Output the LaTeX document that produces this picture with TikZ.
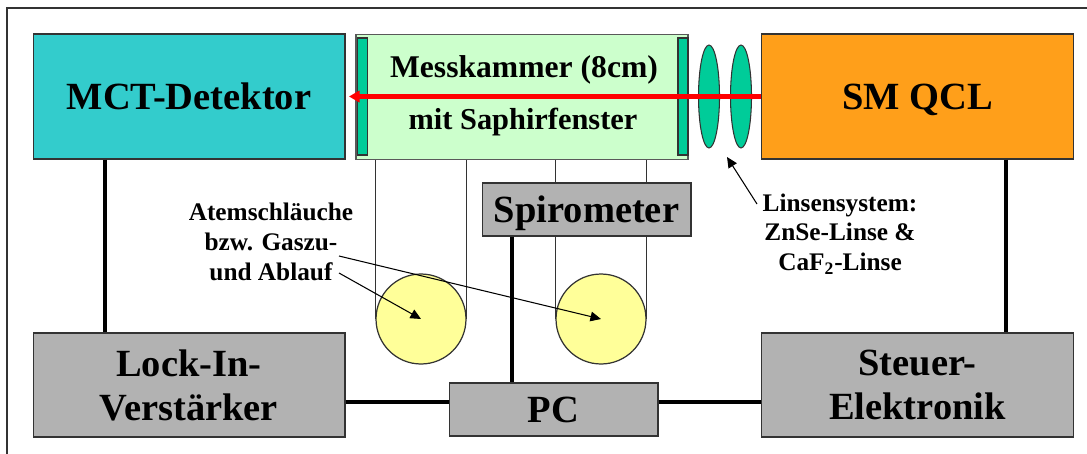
\documentclass[tikz,border=0pt]{standalone}
\usepackage{fontspec}
\setmainfont{Liberation Serif}
\usetikzlibrary{arrows.meta, positioning, shapes.geometric}
\definecolor{detColor}{HTML}{33CCCC}
\definecolor{cellFill}{HTML}{CCFFCC}
\definecolor{opticColor}{HTML}{00CC99}
\definecolor{laserOrange}{HTML}{FF9F1A}
\definecolor{unitGray}{HTML}{B2B2B2}
\definecolor{bagYellow}{HTML}{FFFF99}
\definecolor{edgeGray}{HTML}{333333}

\begin{document}
\begin{tikzpicture}[
    x=0.02cm, y=-0.02cm,
    % ── shared styles ───────────────────────────────────────────────
    big box/.style={
        rectangle, draw=edgeGray, line width=0.6pt, inner sep=0pt,
        font=\fontsize{21.9}{25}\selectfont\bfseries,
        minimum height=2.5cm, minimum width=6.24cm,
        align=center,
    },
    unit/.style={
        big box, fill=unitGray,
        minimum height=2.08cm,
    },
    small unit/.style={
        unit, minimum height=1.06cm, minimum width=4.18cm,
    },
    window/.style={
        rectangle, fill=opticColor, draw=edgeGray, line width=0.6pt,
        inner sep=0pt, minimum height=2.34cm, minimum width=0.2cm,
    },
    lens/.style={
        ellipse, fill=opticColor, draw=edgeGray, line width=0.6pt,
        inner sep=0pt, minimum height=2.06cm, minimum width=0.42cm,
    },
    bag/.style={
        circle, fill=bagYellow, draw=edgeGray, line width=0.7pt,
        inner sep=0pt, minimum size=1.8cm,
    },
    note/.style={
        font=\fontsize{14.4}{17}\selectfont\bfseries, inner sep=0pt,
        align=center,
    },
    tube/.style={draw=edgeGray, line width=1pt},
    bus/.style={black, line width=2.6pt},
    beam/.style={
        -{Triangle[length=6pt,width=6.5pt]},
        red, line width=2.4pt,
    },
    pointer/.style={
        -{Triangle[length=6pt,width=5.5pt]},
        black, line width=0.6pt,
    },
]
\useasboundingbox (0,0) rectangle (1087,453);

% =============================================================
%  OUTER FRAME
% =============================================================
\draw[edgeGray, line width=0.7pt] (7,8) rectangle (1110,480);

% =============================================================
%  TOP ROW
% =============================================================
\node[big box, fill=detColor] (mct) at (189,96.5) {MCT-Detektor};
\node[big box, fill=laserOrange, text depth=0pt] (qcl) at (917.5,96.5) {SM QCL};

\node[big box, fill=cellFill, draw=black!65, line width=1.1pt, minimum width=6.64cm] (cell) at (522,97) {};
\node[window] (winL) at (362.5,96.5) {};
\node[window] (winR) at (683,96.5) {};
\node[font=\fontsize{18}{22}\selectfont\bfseries, inner sep=0pt] (cellTitle) at (524,70) {Messkammer (8cm)};
\node[font=\fontsize{17.3}{21}\selectfont\bfseries, inner sep=0pt] (cellSub) at (523,122) {mit Saphirfenster};

\node[lens] (lensA) at (709,96.5) {};
\node[lens] (lensB) at (741,96.5) {};

% =============================================================
%  MIDDLE: bags, tubes, spirometer
% =============================================================
\node[bag] (bagA) at (421,319) {};
\node[bag] (bagB) at (601,319) {};
\node[small unit, text depth=0pt] (spiro) at (586.5,209.5) {Spirometer};

% Tubes (chamber -> bags, spirometer -> bags)
\draw[tube] (bagA.west) -- (bagA.west |- cell.south);
\draw[tube] (bagA.east) -- (bagA.east |- cell.south);
\draw[tube] (bagB.west) -- (bagB.west |- spiro.south);
\draw[tube] (bagB.east) -- (bagB.east |- spiro.south);
\draw[tube] (bagB.west |- spiro.north) -- (bagB.west |- cell.south);
\draw[tube] (bagB.east |- spiro.north) -- (bagB.east |- cell.south);

% =============================================================
%  BOTTOM ROW
% =============================================================
\node[unit] (lockin) at (189,385) {Lock-In-\\Verstärker};
\node[unit] (steuer) at (917.5,385) {Steuer-\\Elektronik};
\node[small unit] (pc) at (553.5,409.5) {PC};

% Connection lines
\draw[bus] (mct.south -| 105,0) -- (lockin.north -| 105,0);
\draw[bus] (qcl.south -| 1006,0) -- (steuer.north -| 1006,0);
\draw[bus] (512,0 |- spiro.south) -- (512,0 |- pc.north);
\draw[bus] (lockin.east |- 0,402) -- (pc.west |- 0,402);
\draw[bus] (pc.east |- 0,402) -- (steuer.west |- 0,402);

% =============================================================
%  Laser beam
% =============================================================
\coordinate (beamEnd) at (349,96.5);
\draw[beam] (qcl.west) -- (beamEnd);

% =============================================================
%  Labels and pointers
% =============================================================
\node[note] (tubeNote) at (271,242) {Atemschläuche\\bzw. Gaszu-\\und Ablauf};
\node[note] (lensNote) at (840,234) {Linsensystem:\\ZnSe-Linse \&\\CaF\textsubscript{2}-Linse};

\coordinate (lensTip) at (727,157);
\coordinate (lensTail) at (757,204);
\coordinate (tailA) at (339,273);
\coordinate (tailB) at (339,256);
\draw[pointer] (lensTail) -- (lensTip);
\draw[pointer] (tailA) -- (bagA.center);
\draw[pointer] (tailB) -- (bagB.center);

\end{tikzpicture}
\end{document}
